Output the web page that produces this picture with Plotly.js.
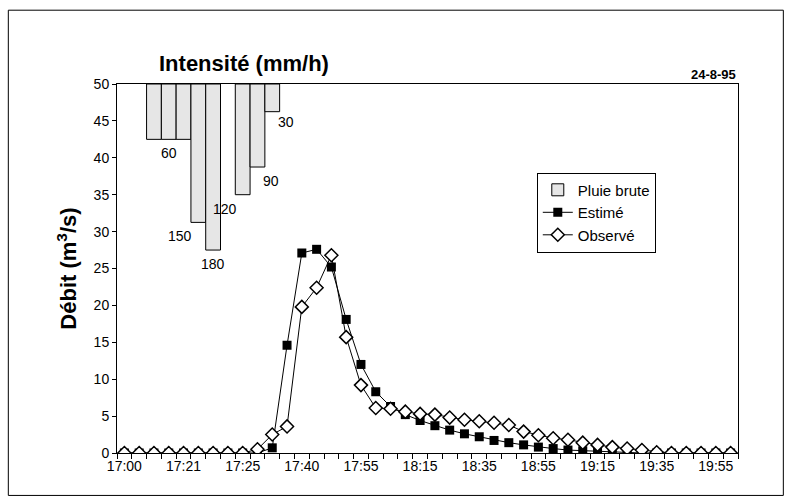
<!DOCTYPE html>
<html>
<head>
<meta charset="utf-8">
<script src="https://cdn.plot.ly/plotly-3.0.1.min.js"></script>
<style>body{margin:0;background:#fff}#chart{width:787px;height:500px}</style>
</head>
<body>
<div id="chart"></div>
<script>
// categories: one point every 5 min, labels every 4 points
var tickIdx = [0, 4, 8, 12, 16, 20, 24, 28, 32, 36, 40];
var tickLabels = ["17:00", "17:21", "17:25", "17:40", "17:55", "18:15", "18:35", "18:55", "19:15", "19:35", "19:55"];

var estime = [0, 0, 0, 0, 0, 0, 0, 0, 0, 0, 0.7, 14.6, 27.1, 27.6, 25.2, 18.1, 12.0, 8.3, 6.3, 5.2, 4.4,
  3.7, 3.1, 2.6, 2.2, 1.7, 1.4, 1.1, 0.8, 0.6, 0.4, 0.3, 0.2, 0.15, 0.1, 0, 0, 0, 0, 0, 0, 0];
var observe = [0, 0, 0, 0, 0, 0, 0, 0, 0, 0.5, 2.5, 3.6, 19.8, 22.4, 26.8, 15.7, 9.2, 6.1, 6.0, 5.6, 5.3,
  5.2, 4.8, 4.5, 4.3, 4.1, 3.8, 2.9, 2.4, 2.0, 1.8, 1.4, 1.1, 0.8, 0.6, 0.4, 0.1, 0, 0, 0, 0, 0];

// rain intensity (mm/h), drawn hanging from the top, 8 mm/h per unit
var pluieIdx = [2, 3, 4, 5, 6, 8, 9, 10];
var pluie = [60, 60, 60, 150, 180, 120, 90, 30];
var pluieLabels = ["", "60", "", "150", "180", "120", "90", "30"];
var labelShift = [[0, 0], [0, -14], [0, 0], [-18, -14], [0, -14], [-18, -14], [14, -14], [14, -10]];

var xs = estime.map(function (v, i) { return i; });

var data = [
  {
    type: "bar", name: "Pluie brute",
    x: pluieIdx, y: pluie.map(function (v) { return -v / 8; }), base: 50, width: 1,
    marker: { color: "#e6e6e6", line: { color: "#000", width: 1 } },
    hoverinfo: "skip"
  },
  {
    type: "scatter", mode: "lines+markers", name: "Estimé",
    x: xs, y: estime,
    line: { color: "#000", width: 1 },
    marker: { symbol: "square", size: 9, color: "#000" }
  },
  {
    type: "scatter", mode: "lines+markers", name: "Observé",
    x: xs, y: observe,
    line: { color: "#000", width: 1 },
    marker: { symbol: "diamond", size: 10, color: "#fff", line: { color: "#000", width: 1.5 } }
  }
];

var annotations = [];
pluieLabels.forEach(function (t, i) {
  if (!t) return;
  annotations.push({
    x: pluieIdx[i], y: 50 - pluie[i] / 8, text: t, showarrow: false,
    xshift: labelShift[i][0], yshift: labelShift[i][1],
    font: { size: 14, color: "#000" }
  });
});
annotations.push({ xref: "paper", yref: "paper", x: 0.065, y: 1.015, xanchor: "left", yanchor: "bottom",
  text: "<b>Intensité (mm/h)</b>", showarrow: false, font: { size: 22, color: "#000" } });
annotations.push({ xref: "paper", yref: "paper", x: 1, y: 1.0, xanchor: "right", yanchor: "bottom",
  text: "<b>24-8-95</b>", showarrow: false, font: { size: 13, color: "#000" } });

var layout = {
  width: 787, height: 500,
  margin: { l: 117, r: 49, t: 84, b: 47 },
  paper_bgcolor: "#fff", plot_bgcolor: "#fff",
  font: { family: "Arial, Liberation Sans, sans-serif", color: "#000", size: 14 },
  bargap: 0,
  xaxis: {
    range: [-0.5, 41.5], tickvals: tickIdx, ticktext: tickLabels, ticks: "",
    showgrid: false, zeroline: false, showline: true, linecolor: "#000", mirror: true,
    minor: { ticks: "outside", tick0: -0.5, dtick: 1, ticklen: 5, tickcolor: "#000", showgrid: false }
  },
  yaxis: {
    range: [0, 50], dtick: 5, ticks: "outside", ticklen: 4, tickcolor: "#000",
    showgrid: false, zeroline: false, showline: true, linecolor: "#000", mirror: true,
    title: { text: "<b>Débit (m<sup>3</sup>/s)</b>", font: { size: 22 }, standoff: 10 }
  },
  legend: {
    x: 0.676, y: 0.76, xanchor: "left", yanchor: "top",
    bgcolor: "#fff", bordercolor: "#000", borderwidth: 1,
    font: { size: 15 }, tracegroupgap: 0
  },
  annotations: annotations,
  shapes: [{ type: "rect", xref: "paper", yref: "paper", x0: -0.175, x1: 1.073, y0: -0.115, y1: 1.2,
    line: { color: "#000", width: 1 } }]
};

Plotly.newPlot("chart", data, layout, { displayModeBar: false, staticPlot: true });
</script>
</body>
</html>
